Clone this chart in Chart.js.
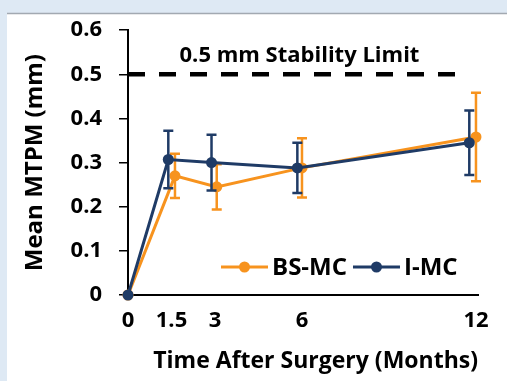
<!DOCTYPE html>
<html><head><meta charset="utf-8">
<script src="https://cdn.jsdelivr.net/npm/chart.js@4.4.1/dist/chart.umd.min.js"></script>
<style>html,body{margin:0;padding:0;background:#dee9f4;}#wrap{width:507px;height:381px;position:relative}</style>
</head><body><div id="wrap"><canvas id="c" width="507" height="381"></canvas></div>
<script>
// ---- data ----
const tickMonths = [0, 1.5, 3, 6, 12];
const yTicks = [0, 0.1, 0.2, 0.3, 0.4, 0.5, 0.6];
const seriesNames = ['BS-MC', 'I-MC'];
const bsX = [0, 1.62, 3.06, 6.0, 12.0];
const bsMean = [0, 0.270, 0.245, 0.288, 0.358];
const bsErr = [0, 0.050, 0.051, 0.067, 0.100];
const imX = [0, 1.39, 2.88, 5.84, 11.77];
const imMean = [0, 0.307, 0.300, 0.288, 0.345];
const imErr = [0, 0.065, 0.063, 0.057, 0.073];
const limitValue = 0.5;
const limitRange = [0, 11.55];
const limitLabel = '0.5 mm Stability Limit';
const xTitle = 'Time After Surgery (Months)';
const yTitle = 'Mean MTPM (mm)';

const ORANGE = '#F7931E', BLUE = '#1F3B66';
const FONT = "'Open Sans', 'DejaVu Sans', sans-serif";

const pts = (xs, ys) => xs.map((x, i) => ({x: x, y: ys[i]}));

const bgPlugin = {
  id: 'bg',
  beforeDraw(chart) {
    const ctx = chart.ctx;
    ctx.save();
    ctx.fillStyle = '#dee9f4';
    ctx.fillRect(0, 0, chart.width, chart.height);
    ctx.fillStyle = '#ffffff';
    ctx.fillRect(7, 14, chart.width - 7, chart.height - 14);
    ctx.strokeStyle = '#a2a9b1';
    ctx.lineWidth = 1.5;
    ctx.beginPath(); ctx.moveTo(7, 13.5); ctx.lineTo(chart.width, 13.5); ctx.stroke();
    ctx.restore();
  }
};

const errPlugin = {
  id: 'errbars',
  afterDatasetDraw(chart, args) {
    const ds = chart.data.datasets[args.index];
    if (!ds.errors) return;
    const ctx = chart.ctx, ys = chart.scales.y;
    const meta = args.meta;
    ctx.save();
    ctx.strokeStyle = ds.borderColor;
    ctx.lineWidth = 2.5;
    meta.data.forEach((el, i) => {
      const e = ds.errors[i];
      if (!e) return;
      const v = ds.data[i].y;
      const top = ys.getPixelForValue(v + e), bot = ys.getPixelForValue(v - e);
      ctx.beginPath();
      ctx.moveTo(el.x, top); ctx.lineTo(el.x, bot);
      ctx.moveTo(el.x - 5, top); ctx.lineTo(el.x + 5, top);
      ctx.moveTo(el.x - 5, bot); ctx.lineTo(el.x + 5, bot);
      ctx.stroke();
    });
    ctx.restore();
  }
};

const labelPlugin = {
  id: 'labels',
  afterDraw(chart) {
    const ctx = chart.ctx, xs = chart.scales.x, ys = chart.scales.y;
    ctx.save();
    // limit label
    const x0 = xs.getPixelForValue(limitRange[0]), x1 = xs.getPixelForValue(limitRange[1]);
    ctx.fillStyle = '#000';
    ctx.font = 'bold 22px ' + FONT;
    ctx.textAlign = 'center'; ctx.textBaseline = 'middle';
    ctx.fillText(limitLabel, (x0 + x1) / 2 + 4, ys.getPixelForValue(limitValue) - 19);
    // legend
    const ca = chart.chartArea;
    let x = ca.left + 93;
    const y = ca.bottom - 28;
    ctx.font = 'bold 24px ' + FONT;
    ctx.textAlign = 'left';
    [0, 1].forEach(k => {
      const ds = chart.data.datasets.find(d => d.label === seriesNames[k]);
      ctx.strokeStyle = ds.borderColor; ctx.lineWidth = 3;
      ctx.beginPath(); ctx.moveTo(x, y); ctx.lineTo(x + 47, y); ctx.stroke();
      ctx.fillStyle = ds.borderColor;
      ctx.beginPath(); ctx.arc(x + 23.5, y, 5.5, 0, Math.PI * 2); ctx.fill();
      ctx.fillStyle = '#000';
      ctx.fillText(ds.label, x + 51, y + 1);
      x = x + 51 + ctx.measureText(ds.label).width + 6;
    });
    ctx.restore();
  }
};

new Chart(document.getElementById('c'), {
  type: 'line',
  data: {
    datasets: [
      { label: seriesNames[1], data: pts(imX, imMean), errors: imErr, borderColor: BLUE, backgroundColor: BLUE,
        borderWidth: 3, pointRadius: 5.5, pointBorderWidth: 0, order: 0, clip: false },
      { label: seriesNames[0], data: pts(bsX, bsMean), errors: bsErr, borderColor: ORANGE, backgroundColor: ORANGE,
        borderWidth: 3, pointRadius: 5.5, pointBorderWidth: 0, order: 1, clip: false },
      { label: 'limit', data: pts(limitRange, limitRange.map(() => limitValue)), borderColor: '#000',
        borderWidth: 4.5, borderDash: [17, 14], pointRadius: 0, order: 2, clip: false }
    ]
  },
  options: {
    responsive: false, animation: false, devicePixelRatio: 1,
    layout: { padding: { top: 30, right: 29, bottom: 0, left: 0 } },
    plugins: { legend: { display: false }, tooltip: { enabled: false } },
    font: { family: FONT },
    scales: {
      x: {
        type: 'linear', min: 0, max: 12.07,
        afterFit: s => { s.height = 86; },
        afterBuildTicks: s => { s.ticks = tickMonths.map(v => ({ value: v })); },
        ticks: { autoSkip: false, maxRotation: 0, padding: 13, color: '#000',
          font: { family: FONT, size: 22, weight: 'bold' }, callback: v => String(v) },
        grid: { drawOnChartArea: false, drawTicks: false },
        border: { display: true, color: '#000', width: 2 },
        title: { display: true, text: xTitle, align: 'end', color: '#000', padding: { top: 0, bottom: 6 },
          font: { family: FONT, size: 23, weight: 'bold' } }
      },
      y: {
        type: 'linear', min: 0, max: 0.6,
        afterFit: s => { s.width = 128; },
        afterBuildTicks: s => { s.ticks = yTicks.map(v => ({ value: v })); },
        ticks: { padding: 17, color: '#000', font: { family: FONT, size: 22, weight: 'bold' },
          callback: v => v === 0 ? '0' : v.toFixed(1) },
        grid: { drawOnChartArea: false, drawTicks: true, tickLength: 9, color: '#000', lineWidth: 1.5 },
        border: { display: true, color: '#000', width: 2 },
        title: { display: true, text: yTitle, color: '#000', padding: { top: 21, bottom: 0 },
          font: { family: FONT, size: 24, weight: 'bold' } }
      }
    }
  },
  plugins: [bgPlugin, errPlugin, labelPlugin]
});
</script></body></html>
